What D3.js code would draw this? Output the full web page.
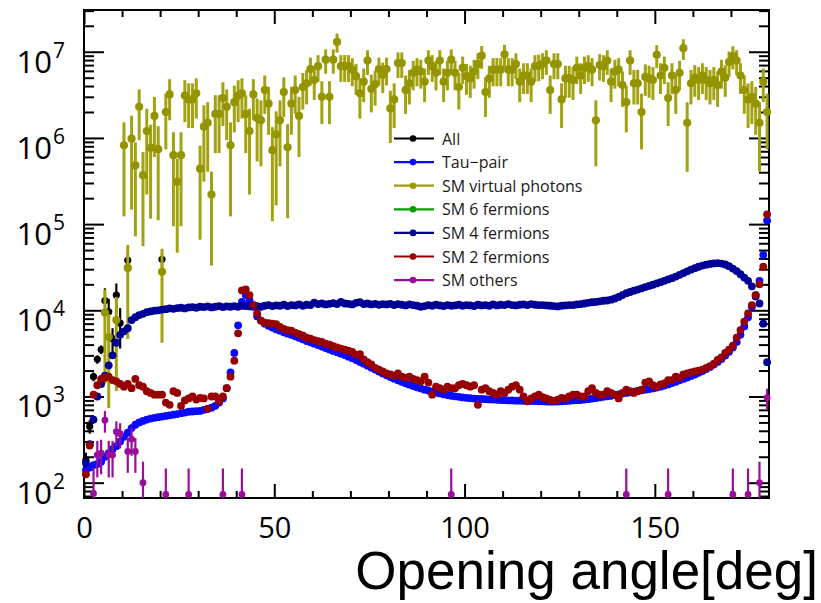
<!DOCTYPE html>
<html lang="en">
<head>
<meta charset="UTF-8">
<title>Opening angle</title>
<script src="https://d3js.org/d3.v7.min.js"></script>
<style>
  body { margin: 0; background: #fff; }
  .axis path.domain { display: none; }
  .axis .tick line { stroke: #000; stroke-width: 2; }
  .ticklab { font-family: "Open Sans", sans-serif; fill: #000; }
  .legend text { font-family: "Open Sans", sans-serif; font-size: 16px; fill: #1a1a1a; }
</style>
</head>
<body>
<div id="chart"></div>
<script>
// 1 degree bins, 0..180
const nBins = 180;

const tauPair = [
  140, 150, 160, 165, 175, 200, 220, 245, 265, 300,
  340, 380, 430, 470, 500, 520, 540, 555, 565, 575,
  585, 595, 605, 615, 625, 640, 650, 665, 670, 675,
  680, 700, 720, 740, 780, 850, 950, 1250, 1900, 3200,
  6700, 12500, 15000, 13000, 11000, 8500, 7600, 7000, 6600, 6300,
  6000, 5800, 5550, 5350, 5200, 5000, 4800, 4600, 4400, 4250,
  4100, 3950, 3800, 3650, 3500, 3380, 3260, 3140, 3020, 2900,
  2780, 2650, 2520, 2400, 2280, 2160, 2050, 1950, 1850, 1760,
  1680, 1610, 1540, 1480, 1420, 1370, 1320, 1280, 1240, 1200,
  1170, 1140, 1110, 1085, 1060, 1040, 1020, 1005, 990, 975,
  965, 955, 945, 940, 935, 930, 925, 920, 915, 910,
  905, 900, 900, 895, 895, 890, 890, 885, 885, 880,
  880, 875, 870, 870, 875, 880, 885, 890, 900, 905,
  910, 920, 930, 945, 960, 975, 990, 1005, 1020, 1040,
  1060, 1080, 1100, 1120, 1140, 1160, 1180, 1200, 1220, 1240,
  1270, 1300, 1340, 1380, 1430, 1480, 1540, 1600, 1660, 1730,
  1800, 1880, 1970, 2080, 2200, 2350, 2520, 2720, 2980, 3300,
  3700, 4300, 5200, 6500, 8300, 11000, 15000, 22000, 44000, 110000
];

const smVirtualPhotons = [
  null, null, null, null, null, 9400, 4900, null, 7700, null,
  820000, 31000, 980000, 480000, 2300000, 370000, 1200000, 770000, 1800000, 740000,
  28000, 2000000, 3200000, 630000, 310000, 630000, 3100000, 2800000, 2800000, 3300000,
  440000, 1350000, 1500000, 220000, 1900000, 1900000, 2900000, 2300000, 820000, 2600000,
  3100000, 3300000, 1900000, 1200000, 3200000, 1700000, 1600000, 3600000, 2500000, 720000,
  1100000, 1600000, 3400000, 780000, 2500000, 3600000, 1800000, 3900000, 4300000, 6300000,
  4700000, 6800000, 3000000, 8100000, 3000000, 8100000, 13000000, 6800000, 6800000, 6800000,
  6200000, 5200000, 3300000, 4500000, 7900000, 3700000, 4200000, 6300000, 5400000, 6300000,
  2200000, 2800000, 7400000, 7400000, 3600000, 4300000, 5700000, 6200000, 5900000, 4500000,
  7900000, 6800000, 5700000, 7900000, 4500000, 5700000, 8100000, 5700000, 3900000, 6500000,
  5200000, 4900000, 5900000, 7200000, 9000000, 3400000, 4900000, 6200000, 6200000, 6200000,
  9300000, 6200000, 6200000, 7200000, 4500000, 5300000, 5300000, 4500000, 6800000, 6900000,
  7200000, 7900000, 3600000, 7200000, 7200000, 2800000, 4900000, 4900000, 4700000, 6500000,
  5300000, 6500000, 6800000, 6200000, 1600000, 7000000, 6800000, 7900000, 4500000, 5900000,
  6200000, 4100000, 2600000, 7900000, 4300000, 4300000, 2000000, 5100000, 4900000, 4700000,
  9200000, 5300000, 6500000, 2900000, 5300000, 3600000, 5700000, 11000000, 1500000, 4300000,
  5000000, 4700000, 5300000, 4700000, 4300000, 4700000, 4100000, 5900000, 5000000, 7600000,
  8900000, 7900000, 5300000, 3600000, 2800000, 3000000, 2500000, 1500000, 4500000, 2000000
];
// typical event weight of the virtual photon sample (sets its error bars)
const photonEventWeight = 8e5;

const sm6Fermions = [];

const sm4Fermions = [
  170, 280, 540, 1000, 1400, 1750, 2300, 3000, 4200, 5200,
  5700, 6200, 7700, 8300, 8800, 9100, 9500, 9700, 9900, 10000,
  10200, 10300, 10500, 10400, 10600, 10700, 10500, 10800, 10900, 10700,
  11000, 10900, 11100, 10800, 11000, 11200, 10900, 11100, 11000, 11200,
  11000, 11300, 11200, 11100, 11400, 11200, 11000, 11300, 11500, 11200,
  11400, 11300, 11600, 11200, 11500, 11400, 11700, 11300, 11600, 11500,
  12300, 11800, 12000, 11700, 11900, 12100, 11800, 12500, 12000, 11900,
  11700, 12200, 12400, 11800, 12000, 11700, 11900, 11600, 11800, 11700,
  11900, 11500, 11800, 11600, 11400, 11700, 11500, 11300, 11000, 11200,
  11500, 11300, 11600, 11400, 11200, 11500, 11300, 11400, 11600, 11300,
  11500, 11400, 11200, 11600, 11400, 11500, 11300, 11700, 11400, 11600,
  11500, 11800, 11500, 11400, 11600, 11700, 11500, 11800, 11600, 11500,
  11500, 11400, 11300, 11200, 11100, 11300, 11400, 11500, 11500, 11700,
  11800, 12000, 12200, 12400, 12500, 12700, 12900, 13000, 13300, 13700,
  14300, 15000, 15800, 16300, 16900, 17400, 18000, 18600, 19200, 19800,
  20500, 21200, 22000, 22800, 23600, 24600, 25800, 27000, 28300, 29600,
  30800, 32000, 33000, 33800, 34500, 35000, 35200, 34800, 34000, 32500,
  30500, 28500, 26200, 24000, 22000, 19000, 14500, 12000, 7000, 2500
];

const sm2Fermions = [
  125, 270, 1050, 1350, 1600, 1650, 1700, 1550, 1500, 1400,
  1300, 1400, 1250, 1600, 1350, 1300, 1150, 1100, 1050, 1050,
  1050, 850, 800, 1150, 1100, 780, 900, 950, 1000, 920,
  960, 950, 720, 1000, 1000, 880, 1000, 1250, 1700, 2600,
  5400, 17000, 17500, 15000, 11500, 9200, 7600, 7200, 7100, 7000,
  6900, 6400, 6100, 5900, 5800, 5500, 5300, 5100, 4800, 4700,
  4500, 4400, 4300, 4100, 4000, 3850, 3700, 3600, 3500, 3400,
  3300, 3050, 3100, 2700, 2500, 2350, 2150, 2050, 1950, 1850,
  1800, 1750, 1850, 1700, 1650, 1700, 1600, 1550, 1500, 1700,
  1450, 1050, 1300, 1250, 1200, 1300, 1250, 1250, 1350, 1400,
  1350, 1300, 1350, 800, 1200, 1250, 1150, 1100, 1050, 1150,
  1100, 1200, 1300, 1350, 1200, 1000, 880, 950, 1000, 1050,
  980, 950, 910, 890, 920, 960, 950, 1000, 1050, 1050,
  1000, 1000, 1150, 1250, 1100, 1050, 1050, 1150, 1100, 1050,
  950, 1100, 1200, 1150, 1100, 1150, 1200, 1450, 1500, 1350,
  1300, 1380, 1420, 1550, 1550, 1700, 1650, 1800, 1850, 1900,
  1950, 2000, 2050, 2150, 2250, 2400, 2650, 2850, 3200, 3500,
  3900, 4800, 5900, 7400, 9200, 11500, 15000, 20000, 32000, 130000
];

// "All" is only visible where the virtual photons do not cover it
const allBins = [0, 1, 2, 3, 4, 5, 6, 7, 8, 9, 11, 20];
const allVals = [183, 450, 1700, 2700, 3500, 13000, 9600, 4700, 15000, 7100, 38000, 39000];
const allErr  = [40, 80, 200, 300, 400, 5000, 4000, 1500, 5500, 3500, 10000, 8000];

const othersBins = [2, 3, 4, 5, 6, 7, 8, 9, 11, 12, 13, 15, 21, 27, 36, 41, 96, 142, 153, 170, 174, 177, 179];
const othersVals = [75, 210, 220, 530, 210, 210, 390, 370, 230, 320, 230, 100, 73, 73, 73, 73, 73, 73, 73, 73, 73, 100, 970];
const othersErr  = [73, 95, 95, 150, 95, 95, 125, 120, 100, 115, 100, 75, 73, 73, 73, 73, 73, 73, 73, 73, 73, 75, 260];

const legendLabels = ["All", "Tau\u2212pair", "SM virtual photons", "SM 6 fermions", "SM 4 fermions", "SM 2 fermions", "SM others"];
const legendColors = ["#000000", "#0a0aff", "#9c9c05", "#00a000", "#000096", "#980000", "#9a0c9a"];

const xMajor = [0, 50, 100, 150];
const yMajorExp = [2, 3, 4, 5, 6, 7];

const width = 821, height = 603;
const frame = {left: 84, right: 769, top: 10, bottom: 498};

const svg = d3.select("#chart").append("svg")
    .attr("width", width)
    .attr("height", height);

const x = d3.scaleLinear().domain([0, 180]).range([frame.left, frame.right]);
const y = d3.scaleLog().domain([66.4, 3.05e7]).range([frame.bottom, frame.top]);

svg.append("defs").append("clipPath").attr("id", "clip")
  .append("rect")
    .attr("x", frame.left).attr("y", frame.top)
    .attr("width", frame.right - frame.left)
    .attr("height", frame.bottom - frame.top);

// ---- axes ----
const yMajor = yMajorExp.map(e => Math.pow(10, e));
let yMinor = [];
for (let d = 1; d <= 7; d++) {
  for (let k = 2; k <= 9; k++) {
    const v = k * Math.pow(10, d);
    if (v >= y.domain()[0] && v <= y.domain()[1]) yMinor.push(v);
  }
}
const xMinor = d3.range(10, 180, 10).filter(v => v % 50 !== 0);

function addAxis(axis, tx, ty) {
  return svg.append("g").attr("class", "axis")
    .attr("transform", `translate(${tx},${ty})`)
    .call(axis);
}

addAxis(d3.axisLeft(y).tickValues(yMajor).tickSize(-20).tickFormat(""), frame.left, 0);
addAxis(d3.axisLeft(y).tickValues(yMinor).tickSize(-10).tickFormat(""), frame.left, 0);
addAxis(d3.axisRight(y).tickValues(yMajor).tickSize(-20).tickFormat(""), frame.right, 0);
addAxis(d3.axisRight(y).tickValues(yMinor).tickSize(-10).tickFormat(""), frame.right, 0);

const xAxis = addAxis(d3.axisBottom(x).tickValues(xMajor).tickSize(-14).tickPadding(19.5), 0, frame.bottom);
xAxis.selectAll("text").attr("class", "ticklab").style("font-size", "29px");
addAxis(d3.axisBottom(x).tickValues(xMinor).tickSize(-7).tickFormat(""), 0, frame.bottom);
addAxis(d3.axisTop(x).tickValues(xMajor).tickSize(-14).tickFormat(""), 0, frame.top);
addAxis(d3.axisTop(x).tickValues(xMinor).tickSize(-7).tickFormat(""), 0, frame.top);

// y labels as 10^n
const ylab = svg.append("g");
yMajorExp.forEach(e => {
  const ty = y(Math.pow(10, e));
  ylab.append("text").attr("class", "ticklab")
    .attr("x", 52).attr("y", ty + 21)
    .attr("text-anchor", "end")
    .style("font-size", "31px")
    .text("10");
  ylab.append("text").attr("class", "ticklab")
    .attr("x", 53).attr("y", ty + 6)
    .style("font-size", "21px")
    .text(e);
});

svg.append("rect")
    .attr("x", frame.left).attr("y", frame.top)
    .attr("width", frame.right - frame.left)
    .attr("height", frame.bottom - frame.top)
    .attr("fill", "none")
    .attr("stroke", "#000")
    .attr("stroke-width", 2);

svg.append("text")
    .attr("x", 818).attr("y", 589)
    .attr("text-anchor", "end")
    .style("font-family", "'Liberation Sans', Arial, sans-serif")
    .style("font-size", "53px")
    .attr("fill", "#000")
    .text("Opening angle[deg]");

// ---- data ----
const plot = svg.append("g");

function denseData(vals) {
  return vals.map((v, i) => ({bin: i, v: v})).filter(d => d.v != null && d.v > 0);
}
function sparseData(bins, vals, errs) {
  return bins.map((b, i) => ({bin: b, v: vals[i], e: errs[i]}));
}

function drawSeries(data, color, r, barColor, barWidth) {
  const g = plot.append("g");
  if (barColor) {
    g.append("g").attr("clip-path", "url(#clip)")
      .selectAll("line").data(data).join("line")
        .attr("x1", d => x(d.bin + 0.5)).attr("x2", d => x(d.bin + 0.5))
        .attr("y1", d => y(Math.max(d.v + d.e, 1)))
        .attr("y2", d => d.v - d.e > 1 ? y(d.v - d.e) : frame.bottom + 5)
        .attr("stroke", barColor)
        .attr("stroke-width", barWidth);
  }
  g.selectAll("circle").data(data).join("circle")
      .attr("cx", d => x(d.bin + 0.5))
      .attr("cy", d => y(d.v))
      .attr("r", r)
      .attr("fill", color);
}

const photonData = denseData(smVirtualPhotons).map(d => ({
  bin: d.bin, v: d.v, e: Math.min(0.85 * d.v, Math.sqrt(d.v * photonEventWeight))
}));

drawSeries(sparseData(allBins, allVals, allErr), legendColors[0], 3.6, legendColors[0], 2.2);
drawSeries(denseData(tauPair), legendColors[1], 3.9);
drawSeries(photonData, "#949400", 4.1, "#a3a312", 3);
drawSeries(denseData(sm6Fermions), legendColors[3], 3.9);
drawSeries(denseData(sm4Fermions), legendColors[4], 3.9);
drawSeries(denseData(sm2Fermions), legendColors[5], 3.9);
drawSeries(sparseData(othersBins, othersVals, othersErr), legendColors[6], 3.4, legendColors[6], 2.2);

// ---- legend ----
const legend = svg.append("g").attr("class", "legend");
legendLabels.forEach((lab, i) => {
  const ly = 138.5 + i * 23.6;
  legend.append("line")
    .attr("x1", 394).attr("x2", 434).attr("y1", ly).attr("y2", ly)
    .attr("stroke", legendColors[i]).attr("stroke-width", 2.2);
  legend.append("circle")
    .attr("cx", 413).attr("cy", ly).attr("r", 3.3)
    .attr("fill", legendColors[i]);
  legend.append("text")
    .attr("x", 442).attr("y", ly + 6)
    .text(lab);
});
</script>
</body>
</html>
